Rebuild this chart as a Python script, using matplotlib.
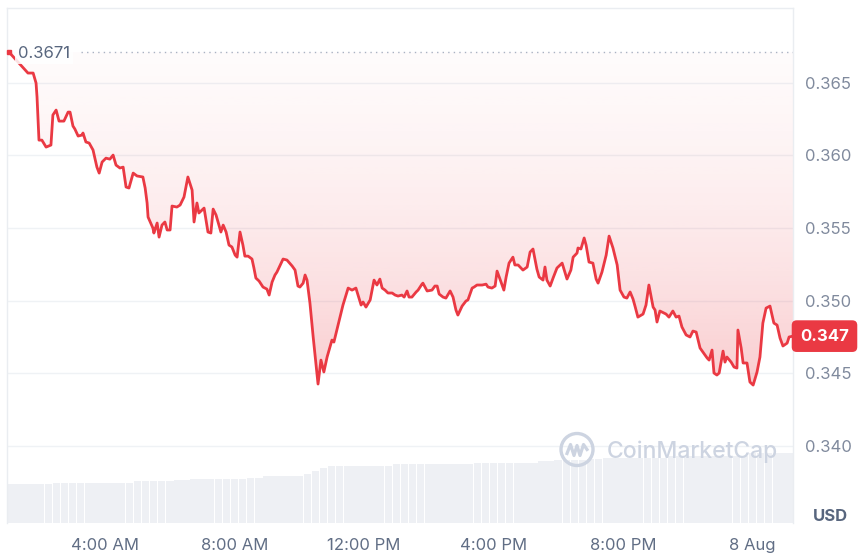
import matplotlib
matplotlib.use('Agg')
import matplotlib.pyplot as plt
import numpy as np
from matplotlib.patches import Circle
from matplotlib.lines import Line2D
from matplotlib.transforms import blended_transform_factory, IdentityTransform

# ---------------- data (hours since 7 Aug 00:00, price in USD) ----------------
hours = [1.04, 1.62, 1.78, 1.87, 1.90, 1.96, 2.05, 2.18, 2.33, 2.39,
         2.49, 2.58, 2.73, 2.86, 2.92, 3.01, 3.07, 3.17, 3.29, 3.32,
         3.41, 3.51, 3.63, 3.75, 3.82, 3.91, 4.03, 4.15, 4.25, 4.34,
         4.46, 4.56, 4.65, 4.74, 4.87, 4.99, 5.17, 5.24, 5.30, 5.33,
         5.48, 5.51, 5.61, 5.67, 5.76, 5.85, 5.92, 6.01, 6.07, 6.22,
         6.32, 6.44, 6.56, 6.69, 6.75, 6.84, 6.90, 7.06, 7.18, 7.27,
         7.34, 7.43, 7.58, 7.65, 7.74, 7.83, 7.92, 8.02, 8.08, 8.17,
         8.26, 8.32, 8.42, 8.54, 8.60, 8.66, 8.76, 8.88, 9.00, 9.07,
         9.16, 9.25, 9.31, 9.50, 9.62, 9.78, 9.87, 9.96, 10.02, 10.12,
         10.18, 10.24, 10.33, 10.43, 10.58, 10.67, 10.76, 10.86, 11.01, 11.07,
         11.20, 11.35, 11.51, 11.63, 11.75, 11.91, 11.97, 12.06, 12.19, 12.31,
         12.40, 12.49, 12.56, 12.65, 12.74, 12.87, 12.96, 13.05, 13.17, 13.24,
         13.33, 13.39, 13.48, 13.61, 13.67, 13.79, 13.82, 13.95, 14.10, 14.19,
         14.26, 14.32, 14.44, 14.53, 14.66, 14.75, 14.84, 14.90, 15.03, 15.15,
         15.21, 15.34, 15.40, 15.49, 15.65, 15.77, 15.83, 15.95, 16.05, 16.11,
         16.20, 16.32, 16.39, 16.48, 16.60, 16.66, 16.76, 16.91, 17.04, 17.13,
         17.22, 17.34, 17.41, 17.53, 17.59, 17.65, 17.75, 17.84, 17.96, 18.12,
         18.27, 18.39, 18.46, 18.58, 18.61, 18.70, 18.80, 18.86, 18.95, 19.07,
         19.17, 19.23, 19.35, 19.48, 19.57, 19.69, 19.82, 19.91, 20.03, 20.12,
         20.22, 20.31, 20.37, 20.46, 20.62, 20.71, 20.80, 20.93, 20.99, 21.05,
         21.14, 21.33, 21.42, 21.54, 21.64, 21.73, 21.82, 21.95, 22.07, 22.16,
         22.26, 22.38, 22.47, 22.60, 22.66, 22.75, 22.81, 22.90, 22.97, 23.09,
         23.15, 23.21, 23.34, 23.43, 23.52, 23.55, 23.65, 23.71, 23.83, 23.92,
         24.02, 24.14, 24.23, 24.32, 24.42, 24.54, 24.66, 24.76, 24.85, 24.94,
         25.07, 25.13, 25.25]

prices = [0.3671, 0.36567, 0.36567, 0.36498, 0.36402, 0.36105, 0.36105, 0.36057, 0.36071, 0.36278,
          0.36312, 0.36236, 0.36236, 0.36298, 0.36298, 0.36202, 0.36181, 0.36133, 0.36140, 0.36154,
          0.36092, 0.36085, 0.36037, 0.35919, 0.35878, 0.35954, 0.35981, 0.35974, 0.36002, 0.35933,
          0.35913, 0.35919, 0.35782, 0.35775, 0.35878, 0.35858, 0.35851, 0.35775, 0.35672, 0.35575,
          0.35499, 0.35465, 0.35534, 0.35437, 0.35520, 0.35541, 0.35486, 0.35486, 0.35651, 0.35644,
          0.35658, 0.35713, 0.35851, 0.35761, 0.35541, 0.35672, 0.35603, 0.35637, 0.35472, 0.35465,
          0.35630, 0.35589, 0.35472, 0.35520, 0.35472, 0.35382, 0.35369, 0.35313, 0.35299, 0.35472,
          0.35382, 0.35306, 0.35306, 0.35286, 0.35224, 0.35155, 0.35134, 0.35093, 0.35079, 0.35038,
          0.35127, 0.35176, 0.35196, 0.35286, 0.35279, 0.35238, 0.35210, 0.35100, 0.35093, 0.35120,
          0.35176, 0.35141, 0.34983, 0.34749, 0.34425, 0.34590, 0.34508, 0.34611, 0.34728, 0.34714,
          0.34831, 0.34969, 0.35086, 0.35072, 0.35086, 0.34969, 0.34990, 0.34955, 0.35004, 0.35141,
          0.35107, 0.35148, 0.35086, 0.35072, 0.35052, 0.35052, 0.35038, 0.35031, 0.35038, 0.35024,
          0.35066, 0.35024, 0.35024, 0.35059, 0.35072, 0.35113, 0.35120, 0.35066, 0.35072, 0.35100,
          0.35100, 0.35045, 0.35024, 0.35017, 0.35066, 0.35024, 0.34935, 0.34900, 0.34962, 0.34997,
          0.35004, 0.35086, 0.35093, 0.35107, 0.35107, 0.35113, 0.35093, 0.35086, 0.35100, 0.35203,
          0.35148, 0.35072, 0.35162, 0.35258, 0.35299, 0.35245, 0.35245, 0.35210, 0.35231, 0.35334,
          0.35355, 0.35217, 0.35162, 0.35141, 0.35231, 0.35141, 0.35100, 0.35155, 0.35224, 0.35258,
          0.35148, 0.35210, 0.35299, 0.35327, 0.35362, 0.35355, 0.35431, 0.35382, 0.35265, 0.35258,
          0.35148, 0.35120, 0.35196, 0.35313, 0.35444, 0.35362, 0.35245, 0.35072, 0.35024, 0.35017,
          0.35059, 0.35010, 0.34962, 0.34886, 0.34907, 0.34969, 0.35107, 0.34955, 0.34935, 0.34852,
          0.34928, 0.34907, 0.34886, 0.34928, 0.34886, 0.34893, 0.34818, 0.34763, 0.34749, 0.34790,
          0.34783, 0.34673, 0.34645, 0.34604, 0.34590, 0.34659, 0.34501, 0.34487, 0.34501, 0.34652,
          0.34576, 0.34611, 0.34576, 0.34542, 0.34535, 0.34797, 0.34673, 0.34570, 0.34570, 0.34439,
          0.34418, 0.34508, 0.34611, 0.34845, 0.34948, 0.34962, 0.34845, 0.34831, 0.34742, 0.34687,
          0.34707, 0.34749, 0.34755]

open_price = 0.3671

# 15-minute volume bars (USD millions), first bar at 01:00
vol_start_hour = 1.0
vol_step_hours = 0.25
volumes = [139, 139, 139, 139, 139, 139,
           144, 144, 144, 144, 144, 144, 144, 144, 144, 144,
           149, 149, 149, 149, 149,
           155, 155, 156, 156, 157, 157, 158, 158, 159, 160, 161,
           169, 169, 169, 169, 169,
           176, 186, 196, 203,
           205, 205, 205, 205, 205, 205, 205,
           212, 212, 212, 212, 212, 212, 212, 212, 212, 212,
           214, 214, 214, 214, 214, 214, 214, 214,
           221, 222, 224, 225, 226, 227, 228, 229,
           232, 232, 232, 232, 232, 232, 232, 232,
           239, 239, 239, 239, 239, 239, 239, 239, 239, 239,
           252, 252, 252, 252, 252, 252]

y_ticks = [0.340, 0.345, 0.350, 0.355, 0.360, 0.365]
y_tick_labels = ['0.340', '0.345', '0.350', '0.355', '0.360', '0.365']
x_ticks = [4, 8, 12, 16, 20, 24]
x_tick_labels = ['4:00 AM', '8:00 AM', '12:00 PM', '4:00 PM', '8:00 PM', '8 Aug']

# ---------------- styling ----------------
FONT = ['Inter', 'DejaVu Sans']
plt.rcParams['font.family'] = FONT
RED = '#ea3943'
GRID = '#eff2f5'
LABEL = '#808a9d'

W, H = 862, 556
fig = plt.figure(figsize=(W / 100, H / 100), dpi=100)
fig.patch.set_facecolor('white')

L, R, T, B = 7.5, 793.0, 8.0, 522.7
rect = [L / W, 1 - B / H, (R - L) / W, (B - T) / H]
axv = fig.add_axes(rect)
ax = fig.add_axes(rect, sharex=axv)
axv.set_zorder(0)
ax.set_zorder(1)
ax.patch.set_visible(False)

XLIM = (0.988, 25.251)
YLIM = (0.33470, 0.37015)

# volume bars
vol_x = vol_start_hour + vol_step_hours * np.arange(len(volumes))
axv.bar(vol_x, volumes, width=vol_step_hours * 0.93, color='#eef0f4', linewidth=0)
axv.set_ylim(0, 1853)
axv.axis('off')

# gradient fill between price line and open price
n = 300
ys = np.linspace(open_price, YLIM[0], n)
frac = np.clip((open_price - ys) / (open_price - 0.344), 0, 1.05)
alpha = 0.02 + 0.10 * frac + 0.14 * frac ** 2
img = np.zeros((n, 1, 4))
img[..., 0] = 234 / 255
img[..., 1] = 57 / 255
img[..., 2] = 67 / 255
img[..., 3] = alpha[:, None]
im = ax.imshow(img, extent=[XLIM[0], XLIM[1], YLIM[0], open_price], aspect='auto',
               origin='upper', zorder=1, interpolation='bilinear')
poly = ax.fill_between(hours, prices, open_price, facecolor='none', edgecolor='none')
im.set_clip_path(poly.get_paths()[0], transform=ax.transData)

# price line
ax.plot(hours, prices, color=RED, lw=2.0, zorder=3, solid_joinstyle='round')

# open price dotted reference
ax.axhline(open_price, xmin=0.093, xmax=1, color='#a9b2c2', lw=1.0,
           linestyle=(0, (1, 3)), zorder=2)
bt = blended_transform_factory(ax.transAxes, ax.transData)
ax.text(0.0134, open_price - 0.00008, f'{open_price:.4f}', transform=bt, ha='left', va='center',
        fontsize=12, color='#58667e', zorder=4,
        bbox=dict(facecolor='white', alpha=0.85, edgecolor='none', pad=2))
ax.plot([hours[0]], [prices[0]], 's', ms=2.6, color=RED, zorder=5, clip_on=False)

# axes & ticks
ax.set_xlim(*XLIM)
ax.set_ylim(*YLIM)
ax.yaxis.tick_right()
ax.set_yticks(y_ticks)
ax.set_yticklabels(y_tick_labels)
ax.set_xticks(x_ticks)
ax.set_xticklabels(x_tick_labels)
ax.tick_params(axis='y', length=0, pad=8.6, labelsize=12, labelcolor=LABEL)
ax.tick_params(axis='x', length=0, pad=11, labelsize=12, labelcolor='#616e85')
ax.grid(axis='y', color=GRID, lw=1.0, zorder=0)
ax.grid(axis='x', visible=False)
ax.set_axisbelow(True)
for s in ['left', 'top', 'right']:
    ax.spines[s].set_color('#eaedf1')
    ax.spines[s].set_linewidth(1.0)
ax.spines['bottom'].set_visible(False)

# current price badge
last_label = f'{np.floor(prices[-1] * 1000) / 1000:.3f}'
ax.text(1.0401, prices[-1], last_label, transform=bt, ha='center', va='center',
        fontsize=12, fontweight='bold', color='white', zorder=6,
        bbox=dict(boxstyle='round,pad=0.5,rounding_size=0.3', fc=RED, ec='none'))

# USD label
fig.text(830 / W, 1 - 516.7 / H, 'USD', ha='center', va='center', fontsize=12,
         fontweight='bold', color='#58667e')

# watermark
WM = '#cdd4e1'
cx, cy = 577, H - 449.5
fig.add_artist(Circle((cx, cy), 16, transform=IdentityTransform(), fill=False,
                      ec=WM, lw=2.4, zorder=2))
mx = np.array([-10, -6.5, -3, 0, 3, 6.5, 10])
my = np.array([-4, 5, -6, 4, -6, 5, 0])
fig.add_artist(Line2D(cx + mx, cy + my, transform=IdentityTransform(), color=WM,
                      lw=2.3, solid_joinstyle='round', zorder=2))
fig.text(607 / W, 1 - 452 / H, 'CoinMarketCap', ha='left', va='center', fontsize=16.5,
         fontweight='medium', color=WM, zorder=2)

fig.savefig('out.png', dpi=100, facecolor='white')
